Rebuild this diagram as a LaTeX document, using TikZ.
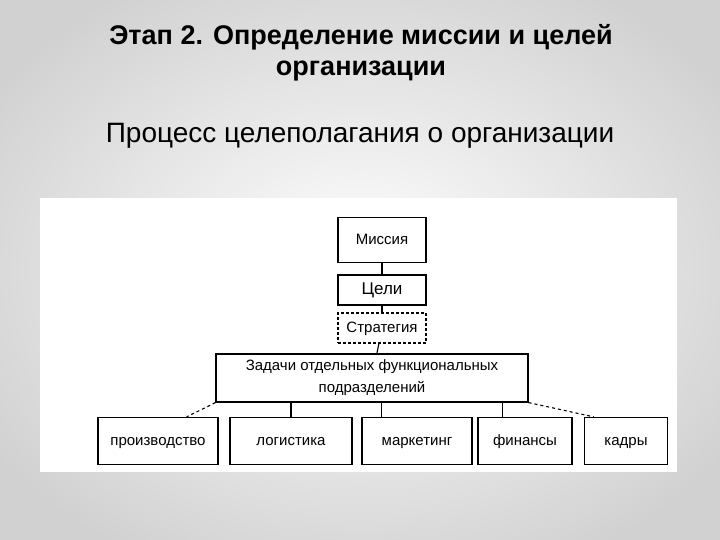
\documentclass[tikz,border=0pt]{standalone}
\usepackage{fontspec}
\setmainfont{Liberation Sans}
\begin{document}
\begin{tikzpicture}[x=1pt,y=-1pt,
  bx/.style={draw,line width=1.2pt,inner sep=0pt,text height=11pt,text depth=3pt,font=\fontsize{15}{17}\selectfont},
  ln/.style={line width=1.1pt}]
\useasboundingbox (0,0) rectangle (720,540);
\shade[inner color=white,outer color=black!18] (-80,-60) rectangle (800,600);
\node (t1) at (361,37) {\fontsize{27}{31}\selectfont\bfseries Этап 2. Определение миссии и целей};
\node (t2) at (361,71) {\fontsize{27}{31}\selectfont\bfseries организации};
\node (t3) at (360,136) {\fontsize{28}{32}\selectfont Процесс целеполагания о организации};
\fill[white] (40,198) rectangle (677,472);
\node[bx,minimum width=88,minimum height=45] (m) at (382,240) {Миссия};
\node[bx,minimum width=88,minimum height=30,font=\fontsize{17}{19}\selectfont] (c) at (382,290) {Цели};
\node[bx,densely dashed,minimum width=88,minimum height=30] (s) at (382,328) {Стратегия};
\node[bx,text height=,text depth=,minimum width=312,minimum height=48,align=center] (z) at (372,378) {Задачи отдельных функциональных\\[5pt]подразделений};
\node[bx,minimum width=120,minimum height=47] (b1) at (158,441) {производство};
\node[bx,minimum width=122,minimum height=47] (b2) at (291,441) {логистика};
\node[bx,minimum width=110,minimum height=47] (b3) at (417,441) {маркетинг};
\node[bx,minimum width=94,minimum height=47] (b4) at (525,441) {финансы};
\node[bx,minimum width=83,minimum height=47] (b5) at (626,441) {кадры};
\draw[ln] (m) -- (c);
\draw[ln] (c) -- (s);
\draw[ln] (s) -- (z);
\draw[ln,dashed] (z.south west) -- ([xshift=-32pt]b1.north east);
\draw[ln] (z.south -| b2.north) -- (b2.north);
\draw[ln] (z.south -| b3.north west) ++(20,0) coordinate (k3) -- (k3 |- b3.north);
\draw[ln] (z.south -| b4.north west) ++(25,0) coordinate (k4) -- (k4 |- b4.north);
\draw[ln,dashed] (z.south east) -- ([xshift=10pt]b5.north west);
\end{tikzpicture}
\end{document}
